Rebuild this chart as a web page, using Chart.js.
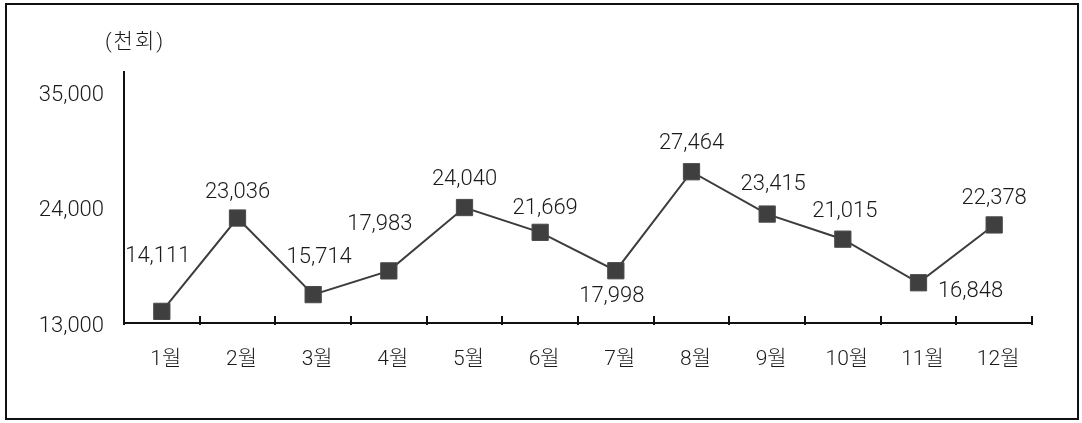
<!DOCTYPE html>
<html>
<head>
<meta charset="utf-8">
<script src="https://cdn.jsdelivr.net/npm/chart.js@4.4.0/dist/chart.umd.min.js"></script>
<style>
  html, body { margin: 0; padding: 0; background: #fff; }
  #frame { position: absolute; left: 5px; top: 3px; width: 1074px; height: 417px; border: 2px solid #111; box-sizing: border-box; }
  #c { position: absolute; left: 0; top: 0; }
</style>
</head>
<body>
<div id="frame"></div>
<canvas id="c" width="1082" height="423"></canvas>
<script>
const categories = ['1월', '2월', '3월', '4월', '5월', '6월', '7월', '8월', '9월', '10월', '11월', '12월'];
const values = [14111, 23036, 15714, 17983, 24040, 21669, 17998, 27464, 23415, 21015, 16848, 22378];
const yTicks = [13000, 24000, 35000];
const unitLabel = '(천회)';

// label placement offsets (style only)
const labelOffsets = [[-4,-55],[0,-26],[6,-37],[-9,-46],[0,-28],[5,-24],[-4,26],[0,-28],[6,-30],[2,-28],[52,9],[0,-26]];

const FONT = 'Roboto, "Noto Sans CJK KR", sans-serif';
const fmt = v => v.toLocaleString('en-US');

const deco = {
  id: 'deco',
  afterDraw(chart) {
    const ctx = chart.ctx;
    const xs = chart.scales.x, ys = chart.scales.y;
    const ca = chart.chartArea;
    ctx.save();
    ctx.strokeStyle = '#111';
    ctx.lineWidth = 2;
    for (let i = 0; i <= categories.length; i++) {
      const x = Math.round(xs.getPixelForValue(i - 0.5));
      ctx.beginPath();
      ctx.moveTo(x, ca.bottom - 7);
      ctx.lineTo(x, ca.bottom + 2);
      ctx.stroke();
    }
    ctx.fillStyle = '#1a1a1a';
    ctx.font = '300 21px ' + FONT;
    ctx.textAlign = 'center';
    ctx.textBaseline = 'middle';
    if ('letterSpacing' in ctx) ctx.letterSpacing = '2px';
    ctx.fillText(unitLabel, ys.right + 11, ca.top - 29);
    if ('letterSpacing' in ctx) ctx.letterSpacing = '0px';
    ctx.font = '300 22px ' + FONT;
    const meta = chart.getDatasetMeta(0);
    meta.data.forEach((pt, i) => {
      const [dx, dy] = labelOffsets[i];
      ctx.fillText(fmt(values[i]), pt.x + dx, pt.y + dy);
    });
    ctx.restore();
  }
};

new Chart(document.getElementById('c'), {
  type: 'line',
  data: {
    labels: categories,
    datasets: [{
      data: values,
      borderColor: '#3c3c3c',
      borderWidth: 2,
      pointStyle: 'rect',
      pointRadius: 11.5,
      pointBackgroundColor: '#3f3f3f',
      pointBorderColor: '#4a4a4a',
      pointBorderWidth: 1,
      tension: 0,
      clip: false
    }]
  },
  options: {
    responsive: false,
    animation: false,
    events: [],
    layout: { padding: { top: 72, right: 50, bottom: 0, left: 0 } },
    plugins: { legend: { display: false }, tooltip: { enabled: false } },
    scales: {
      x: {
        type: 'category',
        offset: true,
        grid: { display: true, drawOnChartArea: false, drawTicks: false, offset: true },
        border: { display: true, color: '#111', width: 2 },
        ticks: { color: '#1a1a1a', font: { family: FONT, size: 21, weight: 300 }, padding: 24, labelOffset: 4, maxRotation: 0, autoSkip: false },
        afterFit: s => { s.height = 100; }
      },
      y: {
        min: 13000,
        max: 37000,
        grid: { display: true, drawOnChartArea: false, drawTicks: false },
        border: { display: true, color: '#111', width: 2 },
        afterBuildTicks: s => { s.ticks = yTicks.map(v => ({ value: v })); },
        ticks: { color: '#1a1a1a', font: { family: FONT, size: 22, weight: 300 }, padding: 20, labelOffset: 3, callback: v => fmt(v) },
        afterFit: s => { s.width = 124; }
      }
    }
  },
  plugins: [deco]
});
</script>
</body>
</html>
